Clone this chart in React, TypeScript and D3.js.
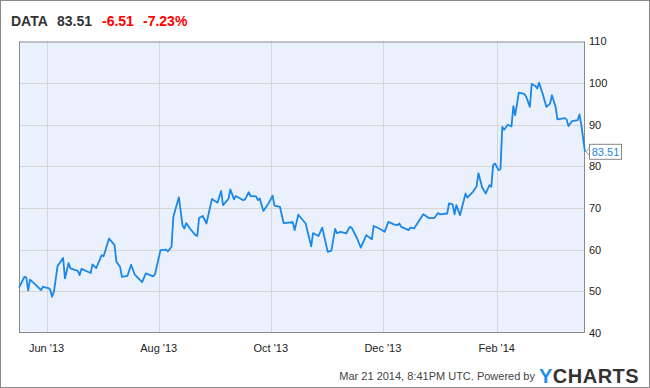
import React from "react";
import * as d3 from "d3";

// price history (trading days, approximate)
const dates: string[] = [
  "2013-05-17", "2013-05-20", "2013-05-21", "2013-05-22", "2013-05-23", "2013-05-26", "2013-05-29", "2013-05-30",
  "2013-06-02", "2013-06-03", "2013-06-04", "2013-06-05", "2013-06-07", "2013-06-10", "2013-06-11", "2013-06-13",
  "2013-06-14", "2013-06-18", "2013-06-19", "2013-06-20", "2013-06-25", "2013-06-26", "2013-06-28", "2013-07-01",
  "2013-07-02", "2013-07-05", "2013-07-08", "2013-07-09", "2013-07-11", "2013-07-12", "2013-07-15", "2013-07-17",
  "2013-07-19", "2013-07-23", "2013-07-25", "2013-07-29", "2013-07-30", "2013-08-02", "2013-08-05", "2013-08-06",
  "2013-08-08", "2013-08-09", "2013-08-12", "2013-08-14", "2013-08-15", "2013-08-16", "2013-08-18", "2013-08-21",
  "2013-08-22", "2013-08-23", "2013-08-25", "2013-08-27", "2013-08-30", "2013-09-02", "2013-09-04", "2013-09-05",
  "2013-09-08", "2013-09-09", "2013-09-11", "2013-09-12", "2013-09-16", "2013-09-17", "2013-09-19", "2013-09-20",
  "2013-09-23", "2013-09-24", "2013-09-25", "2013-09-27", "2013-09-30", "2013-10-02", "2013-10-03", "2013-10-06",
  "2013-10-08", "2013-10-13", "2013-10-14", "2013-10-16", "2013-10-20", "2013-10-23", "2013-10-24", "2013-10-27",
  "2013-10-29", "2013-11-01", "2013-11-03", "2013-11-05", "2013-11-06", "2013-11-08", "2013-11-11", "2013-11-13",
  "2013-11-14", "2013-11-17", "2013-11-19", "2013-11-22", "2013-11-25", "2013-11-26", "2013-11-29", "2013-12-02",
  "2013-12-04", "2013-12-07", "2013-12-09", "2013-12-10", "2013-12-11", "2013-12-15", "2013-12-16", "2013-12-18",
  "2013-12-23", "2013-12-26", "2013-12-29", "2013-12-31", "2014-01-01", "2014-01-05", "2014-01-06", "2014-01-08",
  "2014-01-09", "2014-01-10", "2014-01-12", "2014-01-15", "2014-01-16", "2014-01-19", "2014-01-21", "2014-01-22",
  "2014-01-24", "2014-01-26", "2014-01-28", "2014-01-29", "2014-01-30", "2014-01-31", "2014-02-02", "2014-02-03",
  "2014-02-04", "2014-02-05", "2014-02-07", "2014-02-09", "2014-02-10", "2014-02-11", "2014-02-13", "2014-02-16",
  "2014-02-17", "2014-02-19", "2014-02-20", "2014-02-22", "2014-02-23", "2014-02-24", "2014-02-26", "2014-02-28",
  "2014-03-02", "2014-03-03", "2014-03-05", "2014-03-06", "2014-03-10", "2014-03-11", "2014-03-12", "2014-03-14",
  "2014-03-17", "2014-03-18", "2014-03-19", "2014-03-21",
];

const prices: number[] = [
  50.9, 53.5, 53.3, 50.2, 52.8, 51.6, 50.3, 51.1,
  50.8, 50.4, 48.7, 49.9, 56.1, 58.0, 53.1, 56.8,
  55.5, 54.9, 53.9, 55.4, 54.4, 56.5, 55.6, 58.7,
  58.4, 62.7, 61.1, 57.1, 55.9, 53.5, 53.7, 56.4,
  54.0, 52.2, 54.3, 53.6, 54.1, 59.9, 60.0, 59.6,
  60.7, 67.9, 72.6, 65.8, 65.1, 66.4, 65.1, 63.5,
  63.3, 67.6, 68.1, 66.3, 72.2, 71.3, 74.1, 70.7,
  72.2, 74.5, 72.1, 72.9, 71.9, 72.1, 73.8, 72.9,
  72.8, 71.9, 72.3, 69.3, 71.3, 73.0, 70.6, 70.3,
  66.4, 66.6, 64.7, 68.4, 66.3, 60.8, 64.0, 63.3,
  65.3, 59.5, 59.8, 65.0, 64.0, 64.3, 63.9, 65.5,
  65.3, 62.7, 60.5, 63.5, 62.5, 65.7, 65.1, 64.3,
  66.7, 66.1, 65.9, 66.3, 65.5, 64.7, 65.3, 65.1,
  68.5, 67.6, 67.6, 68.8, 68.5, 68.7, 71.1, 70.9,
  68.5, 70.7, 68.3, 73.5, 72.5, 73.9, 75.2, 78.4,
  75.0, 73.5, 75.5, 75.1, 80.3, 80.7, 79.1, 79.4,
  89.5, 88.8, 90.0, 89.6, 94.5, 92.3, 97.7, 97.4,
  96.7, 94.3, 99.8, 99.3, 98.7, 100.1, 97.4, 94.3,
  95.1, 97.1, 94.3, 91.3, 91.6, 91.3, 89.7, 90.9,
  91.1, 92.5, 89.9, 83.51,
];

const yTicks: number[] = [40, 50, 60, 70, 80, 90, 100, 110];
const startDate = "2013-05-17";
const endDate = "2014-03-21";

const W = 650;
const H = 388;
const plot = { left: 19, right: 585, top: 41.5, bottom: 333 };
const lineColor = "#1b87e6";
const font = "'Liberation Sans', Arial, sans-serif";

export default function App() {
  const parse = d3.timeParse("%Y-%m-%d");
  const points = dates.map((d, i) => ({ date: parse(d) as Date, value: prices[i] }));

  const x = d3.scaleTime()
    .domain([parse(startDate) as Date, parse(endDate) as Date])
    .range([plot.left, plot.right]);
  const y = d3.scaleLinear().domain([40, 110]).range([plot.bottom, plot.top]);

  const monthTicks = x.ticks(d3.timeMonth.every(1)!).filter((d) => d.getMonth() % 2 === 1);
  const fmt = d3.timeFormat("%b '%y");

  const line = d3.line<{ date: Date; value: number }>()
    .x((d) => x(d.date))
    .y((d) => y(d.value));

  const last = points[points.length - 1];
  const lx = x(last.date);
  const ly = y(last.value);

  return (
    <div style={{ position: "absolute", left: 0, top: 0 }}>
      <svg width={W} height={H} style={{ display: "block", fontFamily: font }}>
        <rect x={0.5} y={0.5} width={W - 1} height={H - 1} fill="#fff" stroke="#8a8a8a" />

        {/* title */}
        <g fontSize={14} fontWeight="bold">
          <text x={11} y={26} fill="#333">DATA</text>
          <text x={57} y={26} fill="#333">{last.value.toFixed(2)}</text>
          <text x={102} y={26} fill="#f00">-6.51</text>
          <text x={143} y={26} fill="#f00">-7.23%</text>
        </g>

        {/* plot area */}
        <rect x={plot.left} y={plot.top} width={plot.right - plot.left} height={plot.bottom - plot.top} fill="#eaf1fd" />
        {yTicks.slice(1, -1).map((t) => (
          <line key={t} x1={plot.left} x2={plot.right} y1={Math.round(y(t)) + 0.5} y2={Math.round(y(t)) + 0.5} stroke="#d6d6d6" />
        ))}
        {monthTicks.map((d) => (
          <line key={+d} x1={Math.round(x(d)) + 0.5} x2={Math.round(x(d)) + 0.5} y1={plot.top} y2={plot.bottom} stroke="#d6d6d6" />
        ))}
        <rect x={plot.left + 0.5} y={plot.top + 0.5} width={plot.right - plot.left - 1} height={plot.bottom - plot.top - 1} fill="none" stroke="#8a8a8a" />

        <path d={line(points) ?? ""} fill="none" stroke={lineColor} strokeWidth={1.8} strokeLinejoin="round" />

        {/* y axis labels */}
        {yTicks.map((t) => (
          <text key={t} x={589} y={y(t)} dy="0.35em" fontSize={11} fill="#222">{t}</text>
        ))}

        {/* x axis labels */}
        {monthTicks.map((d) => (
          <text key={+d} x={x(d)} y={352} textAnchor="middle" fontSize={11} fill="#222">{fmt(d)}</text>
        ))}

        {/* last value tag */}
        <path
          d={`M${lx + 5},${ly - 4.5} L${lx + 1},${ly} L${lx + 5},${ly + 4.5}`}
          fill="#fff"
          stroke="#999"
        />
        <rect x={589.5} y={ly - 7.5} width={32} height={15} fill="#fff" stroke="#888" />
        <text x={605.5} y={ly} dy="0.35em" textAnchor="middle" fontSize={11} fill={lineColor}>{last.value.toFixed(2)}</text>

        {/* footer */}
        <text x={535} y={380} textAnchor="end" fontSize={11} fill="#444">Mar 21 2014, 8:41PM UTC.  Powered by</text>
        <text x={539} y={383} fontSize={20} fontWeight="bold" fill="#333" letterSpacing={0.5}>
          <tspan fill="#1e90e8">Y</tspan>CHARTS
        </text>
      </svg>
    </div>
  );
}
